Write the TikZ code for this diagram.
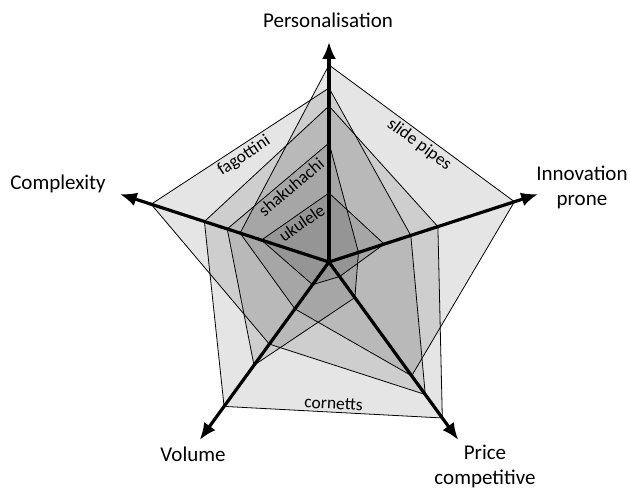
\documentclass[tikz,border=0pt]{standalone}
\usepackage{fontspec}
\setmainfont{Carlito}
\usetikzlibrary{arrows.meta}

\begin{document}
\begin{tikzpicture}[x=1pt,y=1pt,
  axis/.style={line width=3.2pt,-{Latex[length=17pt,width=14pt]}},
  product/.style={draw=black,line width=0.8pt,fill=black,fill opacity=0.1},
  axislabel/.style={font=\fontsize{21}{25}\selectfont,align=center},
  productlabel/.style={font=\fontsize{17.5}{21}\selectfont,sloped,text opacity=1,inner sep=2.5pt}]

\def \axislen {220}

\useasboundingbox (-329,-228) rectangle (301,262);

\coordinate (O) at (0,0);
\coordinate (tipPers) at (90:\axislen);
\coordinate (tipInno) at (18:\axislen);
\coordinate (tipPrice) at (-54:\axislen);
\coordinate (tipVol) at (234:\axislen);
\coordinate (tipComp) at (162:\axislen);

\draw[product] (234:178.5) -- node (lblcornetts) [productlabel,above] {cornetts} (-54:192.8) -- (18:114.5) -- (90:156) -- (162:131) -- cycle;
\draw[product] (90:197) -- node (lblslide) [productlabel,below,pos=0.52] {slide pipes} (18:195) -- (-54:140.7) -- (234:58) -- (162:93.5) -- cycle;
\draw[product] (162:187) -- node (lblfagottini) [productlabel,below,pos=0.49] {fagottini} (90:174) -- (18:86) -- (-54:163.8) -- (234:101.5) -- cycle;
\draw[product] (162:107) -- node (lblshaku) [productlabel,below,pos=0.57] {shakuhachi} (90:119) -- (18:31) -- (-54:44) -- (234:127.6) -- cycle;
\draw[product] (162:71) -- node (lblukulele) [productlabel,below,pos=0.52] {ukulele} (90:69) -- (18:58) -- (-54:18) -- (234:28) -- cycle;

\draw[axis] (O) -- (tipPers);
\draw[axis] (O) -- (tipInno);
\draw[axis] (O) -- (tipPrice);
\draw[axis] (O) -- (tipVol);
\draw[axis] (O) -- (tipComp);

\node (personalisation) [axislabel] at (-1,242) {Personalisation};
\node (complexity) [axislabel] at (-271,78) {Complexity};
\node (innovation) [axislabel] at (253,75) {Innovation\\prone};
\node (volume) [axislabel] at (-136,-192) {Volume};
\node (price) [axislabel] at (156,-204) {Price\\competitive};
\end{tikzpicture}
\end{document}
